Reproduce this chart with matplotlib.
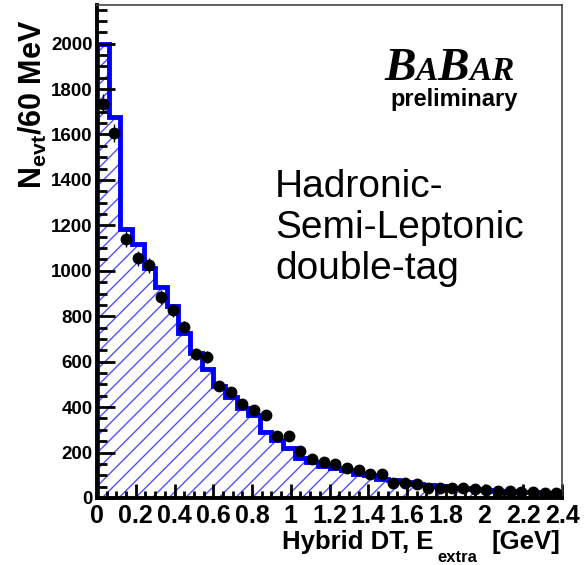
import numpy as np
import matplotlib
matplotlib.use("Agg")
import matplotlib.pyplot as plt
from matplotlib.ticker import MultipleLocator, FuncFormatter

plt.rcParams['font.family'] = ['Liberation Sans', 'DejaVu Sans']
plt.rcParams['mathtext.fontset'] = 'custom'
plt.rcParams['mathtext.rm'] = 'Liberation Sans:bold'
plt.rcParams['mathtext.it'] = 'Liberation Sans:bold'
plt.rcParams['mathtext.bf'] = 'Liberation Sans:bold'
plt.rcParams['hatch.linewidth'] = 1.0

# E_extra bins: 40 bins of 60 MeV from 0 to 2.4 GeV
bin_width = 0.06
n_bins = 40
edges = np.arange(n_bins + 1) * bin_width
centers = edges[:-1] + bin_width / 2

# MC expectation (blue hatched histogram)
mc_counts = [2000, 1675, 1185, 1120, 1012, 928, 845, 725, 637, 568,
             494, 444, 398, 365, 290, 255, 220, 178, 158, 140,
             132, 125, 105, 100, 82, 78, 72, 60, 56, 52,
             45, 42, 38, 35, 32, 30, 28, 26, 24, 22]

# data points
data_counts = [1735, 1605, 1140, 1055, 1024, 884, 827, 752, 634, 620,
               493, 466, 414, 387, 365, 275, 275, 207, 172, 158,
               150, 132, 123, 106, 106, 66, 66, 62, 42, 44,
               44, 42, 40, 36, 32, 30, 27, 25, 23, 22]

fig = plt.figure(figsize=(5.85, 5.65), dpi=100)
ax = fig.add_axes([97 / 585, 67 / 565, 465 / 585, 493 / 565])

# hatched fill, then the thick blue outline
ax.stairs(mc_counts, edges, fill=True, facecolor='none', edgecolor='#5050ff',
          hatch='//', linewidth=0)
ax.stairs(mc_counts, edges, color='#0000ff', linewidth=3.5)

ax.errorbar(centers, data_counts, yerr=np.sqrt(data_counts), fmt='o',
            color='black', markersize=7.5, elinewidth=1, capsize=0, zorder=5)

ax.set_xlim(0, 2.4)
ax.set_ylim(0, 2170)

ax.xaxis.set_major_locator(MultipleLocator(0.2))
ax.xaxis.set_minor_locator(MultipleLocator(0.05))
ax.yaxis.set_major_locator(MultipleLocator(200))
ax.yaxis.set_minor_locator(MultipleLocator(50))
ax.xaxis.set_major_formatter(FuncFormatter(lambda v, p: '%g' % round(v, 2)))

ax.tick_params(which='both', direction='in', top=False, right=False, width=2, color='black')
ax.tick_params(axis='y', which='major', length=13, pad=3, labelsize=13.5)
ax.tick_params(axis='y', which='minor', length=7)
ax.tick_params(axis='x', which='major', length=10, pad=4.5, labelsize=18)
ax.tick_params(axis='x', which='minor', length=5)
for lab in ax.get_xticklabels() + ax.get_yticklabels():
    lab.set_fontweight('bold')

for side in ['left', 'bottom']:
    ax.spines[side].set_linewidth(2.8)
    ax.spines[side].set_color('black')
for side in ['top', 'right']:
    ax.spines[side].set_linewidth(1.2)
    ax.spines[side].set_color('#444444')

# axis titles
fig.text(17 / 585, 1 - 189 / 565, r'N$_{\mathrm{evt}}$/60 MeV', rotation=90,
         fontsize=22, fontweight='bold', ha='left', va='bottom')
fig.text(282 / 585, 1 - 549 / 565, 'Hybrid DT, E', fontsize=18.5,
         fontweight='bold', ha='left', va='baseline')
fig.text(437 / 585, 1 - 562 / 565, 'extra', fontsize=12,
         fontweight='bold', ha='left', va='baseline')
fig.text(560 / 585, 1 - 549 / 565, '[GeV]', fontsize=18.5,
         fontweight='bold', ha='right', va='baseline')

# BaBar logo, built letter by letter
renderer = fig.canvas.get_renderer()
x0 = 384 / 585
y0 = 1 - 80 / 565
for letter, size in [('B', 34), ('A', 24), ('B', 34), ('A', 24), ('R', 24)]:
    t = fig.text(x0, y0, letter, fontsize=size, family='Liberation Serif',
                 fontweight='bold', style='italic', ha='left', va='baseline')
    bb = t.get_window_extent(renderer)
    x0 += bb.width / 585
fig.text(518 / 585, 1 - 106 / 565, 'preliminary', fontsize=17,
         fontweight='bold', ha='right', va='baseline')

ax.text(275 / 585, 1 - 169 / 565, 'Hadronic-\nSemi-Leptonic\ndouble-tag',
        transform=fig.transFigure, fontsize=28, ha='left', va='top',
        linespacing=1.17)

fig.savefig('out.png', dpi=100)
